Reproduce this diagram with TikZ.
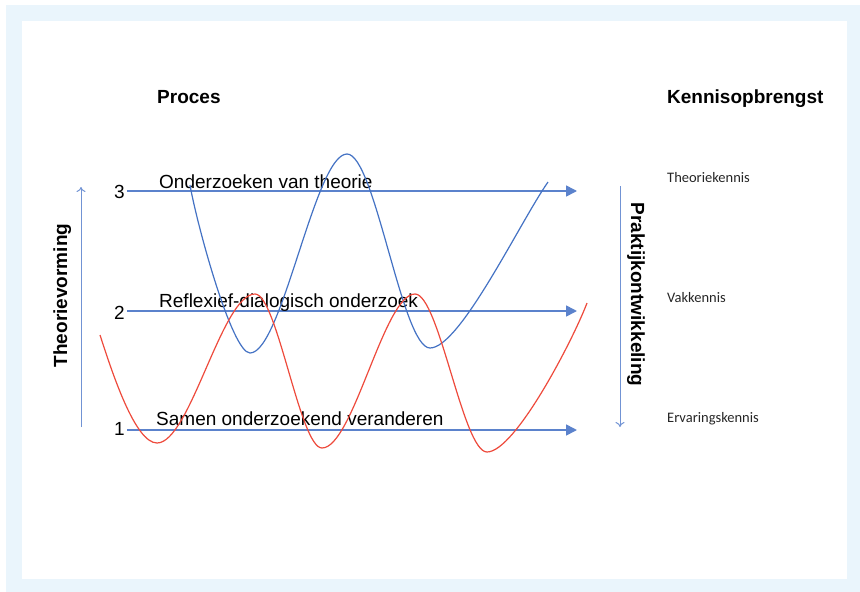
\documentclass[tikz,border=0pt]{standalone}
\usepackage{fontspec}
\setmainfont{Liberation Sans}
\newfontfamily\calibrifont{Carlito}
\usetikzlibrary{arrows.meta}
\definecolor{panelblue}{HTML}{EAF5FC}
\definecolor{axisblue}{HTML}{4472C4}
\definecolor{levelblue}{HTML}{5B82CC}
\definecolor{thinblue}{HTML}{7193D4}
\definecolor{wavered}{HTML}{EE4A3C}
\begin{document}
\begin{tikzpicture}[x=1pt,y=-1pt,
  heading/.style={font=\fontsize{19}{22}\selectfont\bfseries, inner sep=0pt, anchor=base west},
  levellabel/.style={font=\fontsize{19}{22}\selectfont, inner sep=0pt, anchor=base west},
  levelnum/.style={font=\fontsize{19}{22}\selectfont, inner sep=0pt, anchor=base east},
  kennis/.style={font=\calibrifont\fontsize{14.5}{17}\selectfont, text=black!85, inner sep=0pt, anchor=base west},
  sidelabel/.style={font=\fontsize{19}{22}\selectfont\bfseries, inner sep=0pt, anchor=base},
  levelarrow/.style={levelblue, line width=1.6pt, -{Triangle[length=11pt,width=11pt]}},
  sidearrow/.style={thinblue, line width=1pt, -{To[length=5pt,width=9pt]}},
  wave/.style={line width=1.2pt}]
\useasboundingbox (0,0) rectangle (860,592);
% frame
\fill[panelblue] (6,5) rectangle (860,592);
\fill[white] (22,21) rectangle (847,579);

% column headings
\node[heading] (proces) at (157,103) {Proces};
\node[heading] (opbrengst) at (667,103) {Kennisopbrengst};

% knowledge outcomes
\node[kennis] (k3) at (667,182) {Theoriekennis};
\node[kennis] (k2) at (667,302) {Vakkennis};
\node[kennis] (k1) at (667,422) {Ervaringskennis};

% level numbers
\node[levelnum] (n3) at (125,198) {3};
\node[levelnum] (n2) at (125,319) {2};
\node[levelnum] (n1) at (125,435) {1};

% level arrows
\coordinate (s3) at (127,191); \coordinate (e3) at (577,191);
\coordinate (s2) at (127,311); \coordinate (e2) at (577,311);
\coordinate (s1) at (127,430); \coordinate (e1) at (577,430);
\draw[levelarrow] (s3) -- (e3);
\draw[levelarrow] (s2) -- (e2);
\draw[levelarrow] (s1) -- (e1);

% level labels
\node[levellabel] (l3) at (159,188) {Onderzoeken van theorie};
\node[levellabel] (l2) at (159,307) {Reflexief-dialogisch onderzoek};
\node[levellabel] (l1) at (156,425) {Samen onderzoekend veranderen};

% side axes
\coordinate (tvlow) at (81,427); \coordinate (tvhigh) at (81,187);
\draw[sidearrow] (tvlow) -- (tvhigh);
\node[sidelabel, rotate=90] (theorie) at (67,295.5) {Theorievorming};
\coordinate (pktop) at (620,186); \coordinate (pkbot) at (620,427);
\draw[sidearrow] (pktop) -- (pkbot);
\node[sidelabel, rotate=-90] (praktijk) at (631,294.5) {Praktijkontwikkeling};

% blue wave: start, trough, crest, trough, end
\draw[wave, axisblue] (190,185)
  .. controls (197,225) and (232,353) .. (250,353)
  .. controls (282,353) and (315,154) .. (347,154)
  .. controls (375,154) and (402,348) .. (430,348)
  .. controls (460,348) and (520,222) .. (548,182);

% red wave
\draw[wave, wavered] (100,335)
  .. controls (112,372) and (135,443) .. (157,443)
  .. controls (190,443) and (222,294) .. (255,294)
  .. controls (277,294) and (300,448) .. (322,448)
  .. controls (353,448) and (384,294) .. (415,294)
  .. controls (439,294) and (463,452) .. (487,452)
  .. controls (515,452) and (573,340) .. (587,303);
\end{tikzpicture}
\end{document}
